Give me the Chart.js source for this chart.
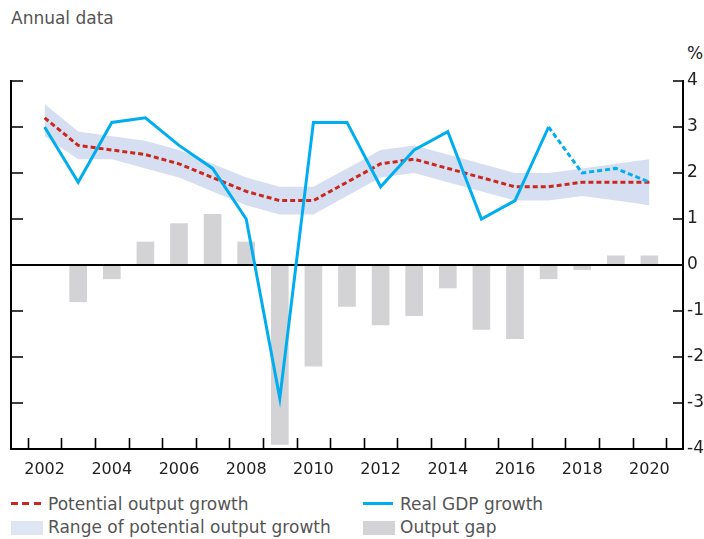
<!DOCTYPE html>
<html>
<head>
<meta charset="utf-8">
<script src="https://cdn.jsdelivr.net/npm/chart.js@4"></script>
<style>
  html, body { margin: 0; padding: 0; background: #fff; }
  body { width: 704px; height: 539px; position: relative; overflow: hidden; font-family: "DejaVu Sans", sans-serif; }
  #title { position: absolute; left: 11px; top: 8px; font-size: 17px; line-height: 20px; color: #555; }
  #pct { position: absolute; left: 687px; top: 43px; font-size: 17px; line-height: 20px; color: #222; }
  #wrap { position: absolute; left: 0; top: 0; width: 704px; height: 480px; }
  .leg { position: absolute; font-size: 17px; line-height: 20px; color: #555; white-space: nowrap; }
  .sw { position: absolute; }
</style>
</head>
<body>
<div id="title">Annual data</div>
<div id="pct">%</div>
<div id="wrap"><canvas id="c"></canvas></div>

<div class="sw" style="left:11px;top:502px;width:30px;height:3px;background:repeating-linear-gradient(to right,#C8281E 0 7px,transparent 7px 11.3px);"></div>
<div class="leg" style="left:48px;top:494px;">Potential output growth</div>
<div class="sw" style="left:363px;top:502px;width:30px;height:3px;background:#00AEEF;"></div>
<div class="leg" style="left:400px;top:494px;">Real GDP growth</div>
<div class="sw" style="left:11px;top:521px;width:32px;height:14px;background:#DEE6F4;"></div>
<div class="leg" style="left:48px;top:517px;">Range of potential output growth</div>
<div class="sw" style="left:363px;top:521px;width:32px;height:14px;background:#D3D3D5;"></div>
<div class="leg" style="left:400px;top:517px;">Output gap</div>

<script>
// ---- data ----
const years = [2002, 2003, 2004, 2005, 2006, 2007, 2008, 2009, 2010, 2011,
               2012, 2013, 2014, 2015, 2016, 2017, 2018, 2019, 2020];
const potentialGrowth = [3.2, 2.6, 2.5, 2.4, 2.2, 1.9, 1.6, 1.4, 1.4, 1.8,
                         2.2, 2.3, 2.1, 1.9, 1.7, 1.7, 1.8, 1.8, 1.8];
const rangeUpper = [3.5, 2.9, 2.8, 2.7, 2.5, 2.2, 1.9, 1.7, 1.7, 2.1,
                    2.5, 2.6, 2.4, 2.2, 2.0, 2.0, 2.1, 2.2, 2.3];
const rangeLower = [2.8, 2.3, 2.3, 2.1, 1.9, 1.6, 1.3, 1.1, 1.1, 1.5,
                    1.9, 2.0, 1.8, 1.6, 1.4, 1.4, 1.5, 1.4, 1.3];
const realGdpGrowth = [3.0, 1.8, 3.1, 3.2, 2.6, 2.1, 1.0, -2.9, 3.1, 3.1,
                       1.7, 2.5, 2.9, 1.0, 1.4, 3.0, 2.0, 2.1, 1.8];
const outputGap = [null, -0.8, -0.3, 0.5, 0.9, 1.1, 0.5, -3.9, -2.2, -0.9,
                   -1.3, -1.1, -0.5, -1.4, -1.6, -0.3, -0.1, 0.2, 0.2];
const gdpProjectedFrom = 2017;
const yTicks = [-4, -3, -2, -1, 0, 1, 2, 3, 4];
const xTickLabels = [2002, 2004, 2006, 2008, 2010, 2012, 2014, 2016, 2018, 2020];

// ---- chart ----
const FONT = '"DejaVu Sans", sans-serif';
const pts = arr => years.map((yr, i) => ({ x: yr, y: arr[i] }));

const frameMarks = {
  id: 'frameMarks',
  afterDatasetDraw(chart, args) {
    if (args.meta.type !== 'bar') return;
    const { ctx, chartArea: a, scales: { y } } = chart;
    const y0 = y.getPixelForValue(0);
    ctx.save();
    ctx.strokeStyle = '#000';
    ctx.lineWidth = 2;
    ctx.beginPath();
    ctx.moveTo(a.left, y0);
    ctx.lineTo(a.right, y0);
    ctx.stroke();
    ctx.restore();
  },
  afterDraw(chart) {
    const { ctx, chartArea: a, scales: { x, y } } = chart;
    ctx.save();
    ctx.strokeStyle = '#000';
    ctx.lineWidth = 1.6;
    ctx.beginPath();
    const bounds = years.map(v => v - 0.5).concat([years[years.length - 1] + 0.5]);
    bounds.forEach(b => {
      const px = Math.round(x.getPixelForValue(b)) + 0.5;
      ctx.moveTo(px, a.bottom);
      ctx.lineTo(px, a.bottom - 11);
    });
    y.ticks.forEach(t => {
      const py = Math.round(y.getPixelForValue(t.value));
      ctx.moveTo(a.left, py);
      ctx.lineTo(a.left + 12, py);
      ctx.moveTo(a.right - 10, py);
      ctx.lineTo(a.right, py);
    });
    ctx.stroke();
    ctx.restore();
  }
};

new Chart(document.getElementById('c'), {
  type: 'bar',
  data: {
    datasets: [
      {
        type: 'line', label: 'Real GDP growth', data: pts(realGdpGrowth),
        borderColor: '#00AEEF', borderWidth: 3, pointRadius: 0, fill: false,
        tension: 0, borderJoinStyle: 'miter', order: 0,
        segment: { borderDash: c => c.p0.parsed.x >= gdpProjectedFrom ? [5, 3] : undefined }
      },
      {
        type: 'line', label: 'Potential output growth', data: pts(potentialGrowth),
        borderColor: '#C8281E', borderWidth: 3, borderDash: [5, 3], pointRadius: 0,
        fill: false, tension: 0, order: 1
      },
      {
        type: 'bar', label: 'Output gap', data: pts(outputGap),
        backgroundColor: '#D3D3D5', borderWidth: 0, barThickness: 17, order: 2
      },
      {
        type: 'line', label: 'Range lower', data: pts(rangeLower),
        borderColor: 'rgba(0,0,0,0)', borderWidth: 0, pointRadius: 0, fill: false, order: 4
      },
      {
        type: 'line', label: 'Range of potential output growth', data: pts(rangeUpper),
        borderColor: 'rgba(0,0,0,0)', borderWidth: 0, pointRadius: 0,
        fill: '-1', backgroundColor: '#D6DFF1', order: 3
      }
    ]
  },
  options: {
    responsive: true,
    maintainAspectRatio: false,
    animation: false,
    events: [],
    layout: { padding: { left: 11, right: 0, top: 81, bottom: 0 } },
    plugins: { legend: { display: false }, tooltip: { enabled: false } },
    scales: {
      x: {
        type: 'linear', min: years[0] - 1, max: years[years.length - 1] + 1, offset: false,
        grid: { display: false, drawTicks: false },
        border: { display: true, color: '#000', width: 2 },
        afterBuildTicks: s => { s.ticks = xTickLabels.map(v => ({ value: v })); },
        afterFit: s => { s.height = 31; },
        ticks: {
          autoSkip: false, maxRotation: 0, padding: 11, color: '#222',
          font: { family: FONT, size: 16 },
          callback: v => String(v)
        }
      },
      y: {
        type: 'linear', position: 'right', min: -4, max: 4,
        grid: { display: false, drawTicks: false },
        border: { display: true, color: '#000', width: 2 },
        afterBuildTicks: s => { s.ticks = yTicks.map(v => ({ value: v })); },
        afterFit: s => { s.width = 21; },
        ticks: { padding: 4, color: '#222', font: { family: FONT, size: 17 }, callback: v => String(v) }
      },
      y2: {
        type: 'linear', position: 'left', min: -4, max: 4,
        grid: { display: false, drawTicks: false },
        border: { display: true, color: '#000', width: 2 },
        ticks: { display: false },
        afterFit: s => { s.width = 0; }
      }
    }
  },
  plugins: [frameMarks]
});
</script>
</body>
</html>
